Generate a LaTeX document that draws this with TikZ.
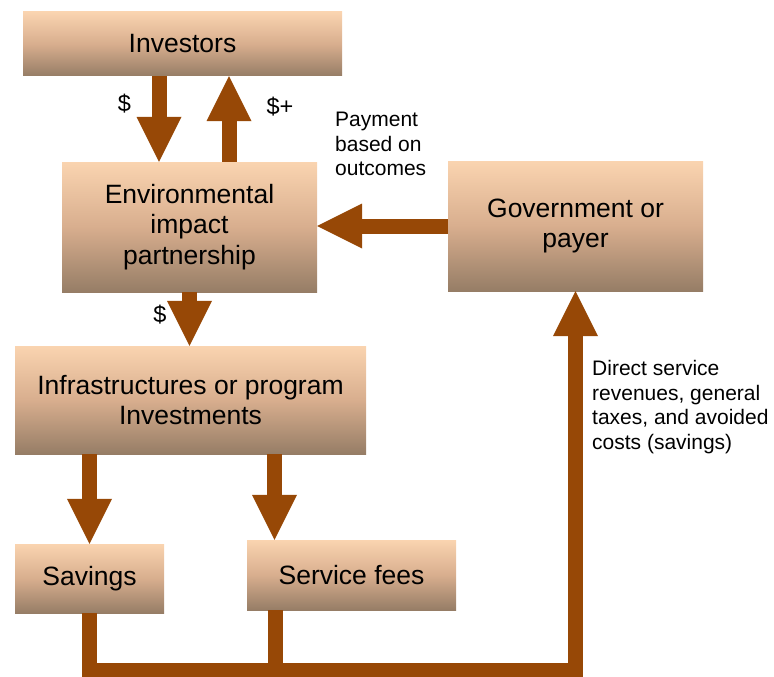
\documentclass[tikz,border=0pt]{standalone}
\usepackage{fontspec}
\setmainfont{Liberation Sans}
\usetikzlibrary{arrows.meta}
\definecolor{flowbrown}{RGB}{151,72,6}
\definecolor{boxtop}{RGB}{250,212,176}
\definecolor{boxmid}{RGB}{216,174,142}
\definecolor{boxbot}{RGB}{150,125,102}

\begin{document}
\begin{tikzpicture}[x=1pt, y=-1pt,
box/.style={inner sep=0pt, align=center, top color=boxtop, bottom color=boxbot, middle color=boxmid, font=\fontsize{26.5}{30.5}\selectfont},
flow/.style={draw=flowbrown, line width=15pt, line join=miter, -{Triangle[width=45pt,length=45pt,line width=0pt]}},
bar/.style={draw=flowbrown, line width=15pt, line join=miter},
note/.style={inner sep=0pt, align=left, font=\fontsize{21}{24.5}\selectfont},
money/.style={inner sep=0pt, font=\fontsize{23.5}{26}\selectfont}]
\useasboundingbox (0,0) rectangle (774,677);
\node[box, minimum width=319pt, minimum height=64pt] (inv) at (182.5,44) {Investors};
\node[box, minimum width=255pt, minimum height=130pt] (eip) at (189.5,227) {Environmental\\impact\\partnership};
\node[box, minimum width=255pt, minimum height=130pt] (gov) at (575.5,226) {Government or\\payer};
\node[box, minimum width=351pt, minimum height=108pt] (infra) at (190.5,400) {Infrastructures or program\\Investments};
\node[box, minimum width=149pt, minimum height=69pt] (sav) at (89.5,578.5) {Savings};
\node[box, minimum width=209pt, minimum height=70pt] (fees) at (351.5,575) {Service fees};
\node[money] (usdin) at (124.5,104) {\$};
\node[money] (usdout) at (280,107) {\$+};
\node[money] (usddown) at (160,315) {\$};
\node[note, anchor=west] (pay) at (335,144) {Payment\\based on\\outcomes};
\node[note, anchor=west] (rev) at (592,407) {Direct service\\revenues, general\\taxes, and avoided\\costs (savings)};
\coordinate (invout) at ([xshift=-23.5pt]inv.south);
\coordinate (invin) at ([xshift=39.5pt]eip.north);
\coordinate (feesin) at ([xshift=-77pt]fees.north);
\coordinate (feesout) at ([xshift=-76.5pt]fees.south);
\coordinate (bus) at (575.5,670);
\draw[flow] (invout) -- (invout |- eip.north);
\draw[flow] (invin) -- (invin |- inv.south);
\draw[flow] (gov.west) -- (gov.west -| eip.east);
\draw[flow] (eip.south) -- (eip.south |- infra.north);
\draw[flow] (infra.south -| sav.north) -- (sav.north);
\draw[flow] (infra.south -| feesin) -- (feesin);
\draw[bar] (feesout) -- (feesout |- bus);
\draw[flow] (sav.south) |- (bus) -| (gov.south);
\end{tikzpicture}
\end{document}
